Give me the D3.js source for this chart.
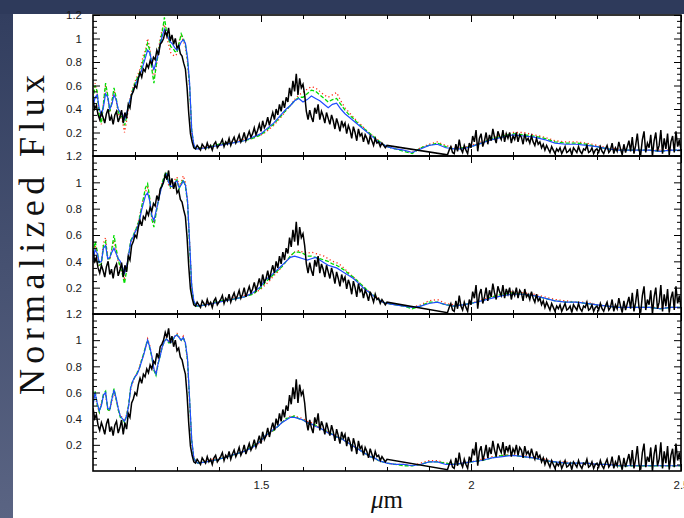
<!DOCTYPE html>
<html>
<head>
<meta charset="utf-8">
<script src="https://cdn.jsdelivr.net/npm/d3@7"></script>
<style>
  html, body { margin: 0; padding: 0; background: #2e3a5b; }
  svg { display: block; }
</style>
</head>
<body>
<svg id="chart" width="684" height="518"></svg>
<script>
// ---------------------------------------------------------------
// Observed spectrum (normalized flux), sampled every 0.004 micron.
// J+H segment starts at 1.100 um, K segment starts at 1.944 um;
// the telluric gap between them is bridged by a straight line.
// ---------------------------------------------------------------
const obsStep = 0.004;
const obsStartJH = 1.100;
const obsStartK = 1.944;

const obsJH = [
  0.48, 0.40, 0.43, 0.35,
  0.31, 0.37, 0.33, 0.28, 0.36, 0.40, 0.30, 0.34, 0.27, 0.35, 0.38, 0.29, 0.33, 0.39, 0.28, 0.37, 0.32,
  0.44, 0.41, 0.52, 0.55,
  0.60, 0.58, 0.66, 0.71, 0.67, 0.74, 0.72, 0.78, 0.75, 0.81,
  0.78, 0.84, 0.82, 0.90, 0.86, 0.95, 0.97, 1.00, 1.06, 1.02,
  1.09, 0.98, 1.03, 0.95, 1.00, 0.92, 0.94, 0.87, 0.85, 0.79, 0.74,
  0.58, 0.36, 0.19, 0.12, 0.07,
  0.06, 0.09, 0.07, 0.05, 0.10, 0.08, 0.06, 0.11, 0.07, 0.09, 0.05, 0.10, 0.12, 0.07, 0.09,
  0.11, 0.14, 0.08, 0.12, 0.10, 0.15, 0.09, 0.13, 0.16, 0.11,
  0.14, 0.18, 0.12, 0.15, 0.20, 0.13, 0.17, 0.21, 0.16, 0.19,
  0.24, 0.18, 0.22, 0.27, 0.21, 0.30, 0.24, 0.27, 0.33, 0.26,
  0.32, 0.37, 0.31, 0.40, 0.35, 0.44, 0.38, 0.47, 0.41, 0.50,
  0.46, 0.58, 0.51, 0.64, 0.55, 0.70, 0.52, 0.66, 0.58, 0.61,
  0.52, 0.38, 0.31,
  0.39, 0.33, 0.29, 0.41, 0.36, 0.44, 0.31, 0.38, 0.34, 0.28, 0.37, 0.32,
  0.27, 0.35, 0.30, 0.23, 0.32, 0.27, 0.21, 0.30, 0.25, 0.28,
  0.19, 0.26, 0.22, 0.15, 0.25, 0.20, 0.13, 0.23, 0.17, 0.19,
  0.12, 0.18, 0.15, 0.10, 0.17, 0.13, 0.09, 0.15, 0.11, 0.12,
  0.08, 0.11, 0.09, 0.07, 0.09
];

const obsK = [
  0.01,
  0.05, 0.08, 0.03, 0.02, 0.10, 0.04, 0.14, 0.06, 0.03, 0.09, 0.05, 0.02, 0.11,
  0.07, 0.17, 0.12, 0.22, 0.04, 0.15, 0.19, 0.08, 0.13, 0.20, 0.10,
  0.18, 0.13, 0.23, 0.16, 0.11, 0.21, 0.17, 0.14, 0.22, 0.12, 0.19, 0.15, 0.20, 0.11, 0.17,
  0.14, 0.20, 0.12, 0.18, 0.16, 0.10, 0.19, 0.13, 0.15, 0.11, 0.17, 0.12, 0.09, 0.15, 0.10,
  0.12, 0.07, 0.10, 0.05, 0.09, 0.06, 0.03, 0.08, 0.05, 0.02,
  0.06, 0.04, 0.07, 0.02, 0.05, 0.08, 0.03, 0.04, 0.06, 0.01, 0.07, 0.05, 0.03, 0.08, 0.04,
  0.02, 0.06, 0.05, 0.09, 0.03, 0.04, 0.07, 0.02, 0.05, 0.06, 0.03, 0.08, 0.04, 0.02, 0.06,
  0.09, 0.03, 0.05, 0.11, 0.02, 0.07, 0.04, 0.12, 0.06, 0.01, 0.10, 0.03, 0.08, 0.13, 0.04,
  0.16, 0.02, 0.09, 0.19, 0.05, 0.01, 0.14, 0.21, 0.03, 0.11, 0.07, 0.18, 0.00, 0.13, 0.20,
  0.04, 0.09, 0.22, 0.02, 0.15, 0.06, 0.19, 0.01, 0.12, 0.17, 0.03, 0.21, 0.08, 0.14, 0.05
];

// ---------------------------------------------------------------
// Model spectra: shared wavelength grid (micron)
// ---------------------------------------------------------------
const modelWave = [
  1.100, 1.105, 1.110, 1.115, 1.120, 1.125, 1.130, 1.135, 1.140, 1.145,
  1.150, 1.155, 1.160, 1.165, 1.170, 1.175, 1.180, 1.185, 1.190, 1.195,
  1.200, 1.205, 1.210, 1.215, 1.220, 1.225, 1.230, 1.235, 1.240, 1.245,
  1.250, 1.255, 1.260, 1.265, 1.270, 1.275, 1.280, 1.285, 1.290, 1.295,
  1.300, 1.305, 1.310, 1.315, 1.320, 1.325, 1.330, 1.335, 1.340, 1.345, 1.350,
  1.37, 1.40, 1.43, 1.46, 1.48, 1.50,
  1.51, 1.52, 1.53, 1.54, 1.55, 1.56, 1.57, 1.58, 1.59, 1.60,
  1.61, 1.62, 1.63, 1.64, 1.65, 1.66, 1.67, 1.68, 1.69, 1.70,
  1.71, 1.72, 1.73, 1.74, 1.75, 1.76, 1.77, 1.78, 1.79, 1.80,
  1.82, 1.84, 1.86, 1.88, 1.90, 1.92, 1.94, 1.96, 1.98, 2.00,
  2.025, 2.050, 2.075, 2.100, 2.125, 2.150, 2.175, 2.200, 2.225, 2.250,
  2.275, 2.300, 2.325, 2.350, 2.375, 2.400, 2.425, 2.450, 2.475, 2.500
];

// Top panel models
const model1Blue = [
  0.42, 0.50, 0.52, 0.40, 0.35, 0.42, 0.53, 0.50, 0.40, 0.44,
  0.52, 0.48, 0.40, 0.37, 0.36, 0.31, 0.36, 0.44, 0.50, 0.55,
  0.60, 0.64, 0.68, 0.72, 0.78, 0.84, 0.90, 0.88, 0.80, 0.73,
  0.80, 0.86, 0.95, 1.02, 1.08, 1.04, 1.00, 0.97, 0.95, 0.92,
  0.90, 0.93, 0.97, 0.99, 0.96, 0.84, 0.62, 0.22, 0.10, 0.06, 0.06,
  0.07, 0.09, 0.11, 0.13, 0.16, 0.19,
  0.22, 0.25, 0.28, 0.32, 0.36, 0.40, 0.43, 0.47, 0.49, 0.46,
  0.48, 0.51, 0.49, 0.47, 0.44, 0.41, 0.44, 0.45, 0.40, 0.36,
  0.33, 0.30, 0.27, 0.24, 0.21, 0.18, 0.15, 0.12, 0.10, 0.08,
  0.06, 0.05, 0.03, 0.06, 0.09, 0.10, 0.07, 0.06, 0.06, 0.08,
  0.11, 0.14, 0.16, 0.18, 0.17, 0.16, 0.14, 0.11, 0.10, 0.10,
  0.09, 0.08, 0.06, 0.05, 0.05, 0.05, 0.05, 0.04, 0.05, 0.05
];
const model1Green = [
  0.48, 0.60, 0.55, 0.34, 0.28, 0.45, 0.62, 0.52, 0.38, 0.46,
  0.58, 0.50, 0.38, 0.33, 0.34, 0.26, 0.33, 0.44, 0.50, 0.57,
  0.62, 0.66, 0.70, 0.75, 0.82, 0.88, 0.96, 0.90, 0.74, 0.62,
  0.76, 0.86, 0.97, 1.06, 1.18, 1.06, 1.00, 0.93, 0.92, 0.89,
  0.88, 0.96, 1.04, 1.00, 0.95, 0.82, 0.60, 0.22, 0.09, 0.06, 0.07,
  0.07, 0.10, 0.11, 0.13, 0.15, 0.18,
  0.21, 0.24, 0.27, 0.31, 0.35, 0.39, 0.43, 0.47, 0.50, 0.50,
  0.53, 0.56, 0.55, 0.52, 0.49, 0.46, 0.48, 0.49, 0.44, 0.39,
  0.35, 0.32, 0.28, 0.25, 0.22, 0.19, 0.16, 0.13, 0.10, 0.08,
  0.06, 0.04, 0.02, 0.07, 0.09, 0.11, 0.08, 0.06, 0.07, 0.08,
  0.11, 0.15, 0.17, 0.19, 0.18, 0.17, 0.15, 0.12, 0.11, 0.11,
  0.10, 0.08, 0.06, 0.05, 0.05, 0.05, 0.05, 0.04, 0.05, 0.05
];
const model1Red = [
  0.52, 0.62, 0.53, 0.33, 0.27, 0.46, 0.60, 0.50, 0.37, 0.47,
  0.56, 0.48, 0.36, 0.33, 0.30, 0.20, 0.30, 0.42, 0.52, 0.58,
  0.63, 0.68, 0.72, 0.78, 0.86, 0.90, 1.00, 0.92, 0.78, 0.65,
  0.75, 0.88, 1.00, 1.08, 1.12, 1.02, 0.95, 0.88, 0.86, 0.85,
  0.87, 0.98, 1.02, 0.98, 0.93, 0.80, 0.58, 0.20, 0.08, 0.06, 0.06,
  0.08, 0.09, 0.12, 0.14, 0.15, 0.18,
  0.20, 0.23, 0.26, 0.30, 0.34, 0.39, 0.43, 0.48, 0.52, 0.54,
  0.57, 0.59, 0.58, 0.55, 0.52, 0.50, 0.52, 0.54, 0.47, 0.41,
  0.37, 0.33, 0.29, 0.26, 0.22, 0.19, 0.16, 0.13, 0.10, 0.08,
  0.06, 0.05, 0.03, 0.07, 0.10, 0.12, 0.09, 0.07, 0.07, 0.09,
  0.12, 0.16, 0.18, 0.20, 0.20, 0.18, 0.16, 0.13, 0.12, 0.12,
  0.11, 0.09, 0.07, 0.06, 0.05, 0.05, 0.05, 0.05, 0.05, 0.05
];

// Middle panel models
const model2Blue = [
  0.40, 0.49, 0.46, 0.39, 0.40, 0.50, 0.52, 0.42, 0.43, 0.47,
  0.50, 0.46, 0.42, 0.40, 0.36, 0.31, 0.36, 0.45, 0.55, 0.58,
  0.62, 0.65, 0.70, 0.78, 0.84, 0.90, 0.92, 0.86, 0.75, 0.71,
  0.78, 0.85, 0.92, 0.98, 1.03, 1.06, 1.00, 0.97, 0.97, 1.00,
  1.01, 0.96, 0.98, 1.01, 0.98, 0.86, 0.55, 0.22, 0.10, 0.07, 0.06,
  0.07, 0.09, 0.11, 0.13, 0.16, 0.21,
  0.26, 0.28, 0.31, 0.34, 0.37, 0.40, 0.43, 0.44, 0.43, 0.42,
  0.41, 0.42, 0.43, 0.41, 0.39, 0.37, 0.36, 0.35, 0.33, 0.31,
  0.29, 0.27, 0.24, 0.21, 0.18, 0.16, 0.13, 0.11, 0.09, 0.08,
  0.07, 0.06, 0.05, 0.06, 0.08, 0.09, 0.07, 0.06, 0.07, 0.08,
  0.10, 0.12, 0.14, 0.15, 0.15, 0.14, 0.12, 0.10, 0.09, 0.09,
  0.08, 0.07, 0.06, 0.05, 0.05, 0.05, 0.05, 0.04, 0.05, 0.05
];
const model2Green = [
  0.46, 0.55, 0.48, 0.37, 0.38, 0.52, 0.55, 0.42, 0.42, 0.50,
  0.60, 0.50, 0.41, 0.36, 0.30, 0.23, 0.33, 0.45, 0.56, 0.59,
  0.63, 0.66, 0.72, 0.80, 0.88, 0.96, 0.99, 0.88, 0.72, 0.66,
  0.76, 0.85, 0.93, 1.00, 1.05, 1.08, 1.00, 0.96, 0.96, 1.00,
  1.02, 0.95, 0.99, 1.02, 0.97, 0.85, 0.52, 0.20, 0.09, 0.06, 0.06,
  0.07, 0.10, 0.11, 0.13, 0.15, 0.20,
  0.24, 0.27, 0.30, 0.33, 0.36, 0.40, 0.44, 0.47, 0.47, 0.46,
  0.44, 0.44, 0.43, 0.42, 0.41, 0.40, 0.38, 0.37, 0.35, 0.33,
  0.30, 0.28, 0.25, 0.22, 0.19, 0.16, 0.14, 0.11, 0.09, 0.08,
  0.07, 0.06, 0.04, 0.06, 0.09, 0.09, 0.07, 0.06, 0.07, 0.08,
  0.10, 0.13, 0.15, 0.16, 0.15, 0.14, 0.12, 0.10, 0.09, 0.09,
  0.08, 0.07, 0.06, 0.05, 0.05, 0.05, 0.05, 0.04, 0.05, 0.05
];
const model2Red = [
  0.44, 0.52, 0.47, 0.36, 0.39, 0.54, 0.58, 0.43, 0.41, 0.49,
  0.56, 0.48, 0.40, 0.35, 0.32, 0.27, 0.35, 0.45, 0.55, 0.58,
  0.63, 0.67, 0.73, 0.80, 0.87, 0.93, 0.96, 0.87, 0.74, 0.69,
  0.77, 0.86, 0.94, 1.00, 1.04, 1.05, 0.98, 0.95, 0.97, 1.02,
  1.04, 0.97, 1.00, 1.05, 1.00, 0.86, 0.54, 0.21, 0.09, 0.06, 0.06,
  0.08, 0.09, 0.12, 0.14, 0.15, 0.19,
  0.22, 0.25, 0.29, 0.32, 0.36, 0.40, 0.44, 0.47, 0.48, 0.47,
  0.46, 0.47, 0.46, 0.45, 0.44, 0.42, 0.40, 0.39, 0.37, 0.34,
  0.31, 0.28, 0.25, 0.22, 0.19, 0.16, 0.14, 0.11, 0.09, 0.08,
  0.07, 0.06, 0.05, 0.07, 0.10, 0.11, 0.08, 0.07, 0.07, 0.08,
  0.11, 0.13, 0.15, 0.17, 0.16, 0.15, 0.13, 0.11, 0.10, 0.09,
  0.09, 0.07, 0.06, 0.05, 0.05, 0.05, 0.05, 0.05, 0.05, 0.05
];

// Bottom panel models
const model3Blue = [
  0.50, 0.60, 0.52, 0.46, 0.50, 0.58, 0.60, 0.48, 0.47, 0.55,
  0.62, 0.56, 0.48, 0.42, 0.40, 0.38, 0.42, 0.50, 0.64, 0.69,
  0.72, 0.74, 0.78, 0.83, 0.88, 0.94, 1.00, 0.95, 0.88, 0.78,
  0.74, 0.82, 0.88, 0.95, 0.99, 1.01, 0.99, 0.98, 1.00, 1.03,
  1.04, 1.02, 1.00, 1.02, 0.98, 0.86, 0.55, 0.24, 0.10, 0.07, 0.06,
  0.07, 0.09, 0.12, 0.15, 0.18, 0.23,
  0.27, 0.29, 0.32, 0.34, 0.37, 0.39, 0.41, 0.41, 0.40, 0.39,
  0.37, 0.36, 0.34, 0.33, 0.31, 0.29, 0.28, 0.26, 0.25, 0.23,
  0.21, 0.19, 0.17, 0.15, 0.13, 0.11, 0.10, 0.08, 0.07, 0.06,
  0.05, 0.05, 0.04, 0.05, 0.07, 0.07, 0.05, 0.05, 0.06, 0.07,
  0.08, 0.10, 0.11, 0.12, 0.11, 0.10, 0.08, 0.07, 0.06, 0.06,
  0.06, 0.05, 0.05, 0.04, 0.04, 0.04, 0.04, 0.04, 0.04, 0.04
];
const model3Green = [
  0.52, 0.61, 0.51, 0.45, 0.51, 0.59, 0.61, 0.47, 0.46, 0.56,
  0.63, 0.55, 0.47, 0.41, 0.40, 0.37, 0.42, 0.51, 0.65, 0.69,
  0.72, 0.75, 0.78, 0.84, 0.89, 0.95, 1.00, 0.94, 0.87, 0.77,
  0.73, 0.82, 0.88, 0.95, 0.99, 1.01, 0.98, 0.98, 1.00, 1.03,
  1.04, 1.02, 1.00, 1.02, 0.97, 0.85, 0.54, 0.23, 0.10, 0.07, 0.06,
  0.07, 0.09, 0.12, 0.15, 0.19, 0.23,
  0.27, 0.29, 0.31, 0.34, 0.37, 0.40, 0.41, 0.42, 0.40, 0.39,
  0.37, 0.36, 0.35, 0.33, 0.31, 0.30, 0.28, 0.26, 0.25, 0.23,
  0.21, 0.19, 0.17, 0.15, 0.13, 0.11, 0.10, 0.08, 0.07, 0.06,
  0.05, 0.04, 0.04, 0.05, 0.07, 0.07, 0.06, 0.05, 0.06, 0.07,
  0.08, 0.10, 0.12, 0.12, 0.11, 0.10, 0.08, 0.07, 0.06, 0.06,
  0.06, 0.05, 0.05, 0.04, 0.04, 0.04, 0.04, 0.04, 0.04, 0.04
];
const model3Red = [
  0.53, 0.59, 0.50, 0.45, 0.52, 0.57, 0.58, 0.48, 0.46, 0.54,
  0.60, 0.55, 0.47, 0.42, 0.41, 0.38, 0.43, 0.51, 0.63, 0.68,
  0.72, 0.75, 0.79, 0.84, 0.89, 0.95, 1.01, 0.96, 0.88, 0.78,
  0.75, 0.82, 0.89, 0.96, 1.00, 1.02, 0.99, 0.98, 1.01, 1.03,
  1.05, 1.03, 1.00, 1.03, 0.98, 0.84, 0.52, 0.22, 0.10, 0.07, 0.06,
  0.08, 0.10, 0.12, 0.15, 0.18, 0.22,
  0.26, 0.29, 0.31, 0.34, 0.37, 0.40, 0.42, 0.42, 0.41, 0.40,
  0.38, 0.37, 0.35, 0.33, 0.32, 0.30, 0.28, 0.27, 0.25, 0.23,
  0.21, 0.19, 0.17, 0.15, 0.13, 0.11, 0.10, 0.08, 0.07, 0.06,
  0.05, 0.05, 0.04, 0.06, 0.08, 0.08, 0.06, 0.05, 0.06, 0.07,
  0.09, 0.11, 0.12, 0.13, 0.12, 0.10, 0.09, 0.07, 0.07, 0.06,
  0.06, 0.05, 0.05, 0.05, 0.04, 0.04, 0.04, 0.04, 0.04, 0.04
];

// Axis ticks and labels
const xMajorTicks = [1.5, 2.0, 2.5];
const xMinorTicks = [1.2, 1.3, 1.4, 1.6, 1.7, 1.8, 1.9, 2.1, 2.2, 2.3, 2.4];
const yMajorTicks = [0.2, 0.4, 0.6, 0.8, 1.0, 1.2];
const yMinorTicks = [0.05, 0.1, 0.15, 0.25, 0.3, 0.35, 0.45, 0.5, 0.55, 0.65, 0.7, 0.75,
                     0.85, 0.9, 0.95, 1.05, 1.1, 1.15];
const yTitle = "Normalized Flux";
const xTitleGreek = "\u03BC";
const xTitleUnit = "m";

// ---------------------------------------------------------------
// Drawing
// ---------------------------------------------------------------
const W = 684, H = 518;
const svg = d3.select("#chart");
const defs = svg.append("defs");

// slide-style backdrop: dark top band and a shaded left band
const grad = defs.append("linearGradient").attr("id", "sideShade")
  .attr("x1", 0).attr("y1", 0).attr("x2", 0).attr("y2", 1);
grad.append("stop").attr("offset", "0%").attr("stop-color", "#323e5f");
grad.append("stop").attr("offset", "100%").attr("stop-color", "#5a6483");
svg.append("rect").attr("width", W).attr("height", H).attr("fill", "#2e3a5b");
svg.append("rect").attr("x", 0).attr("y", 14).attr("width", 13).attr("height", H - 14)
  .attr("fill", "url(#sideShade)");
svg.append("rect").attr("x", 13).attr("y", 14).attr("width", W - 13).attr("height", H - 14)
  .attr("fill", "#ffffff");

const x = d3.scaleLinear().domain([1.1, 2.5]).range([93, 681]);
const panelRows = [[15, 156], [156, 314], [314, 471]];
const panelModels = [
  { red: model1Red, green: model1Green, blue: model1Blue },
  { red: model2Red, green: model2Green, blue: model2Blue },
  { red: model3Red, green: model3Green, blue: model3Blue }
];

const observed = obsJH.map((v, i) => [obsStartJH + i * obsStep, v])
  .concat(obsK.map((v, i) => [obsStartK + i * obsStep, v]));

const tickFont = "'Liberation Sans', Arial, Helvetica, sans-serif";

function styleAxis(sel) {
  sel.select(".domain").remove();
  sel.selectAll(".tick line").attr("stroke", "#000").attr("stroke-width", 1);
  sel.selectAll(".tick text").attr("fill", "#1a1a1a");
  sel.attr("font-family", tickFont).attr("font-size", 11.5);
}

panelRows.forEach(([top, bottom], p) => {
  const y = d3.scaleLinear().domain([0, 1.2]).range([bottom, top]);
  const g = svg.append("g");
  const clipId = "clip" + p;
  defs.append("clipPath").attr("id", clipId).append("rect")
    .attr("x", x.range()[0]).attr("y", top)
    .attr("width", x.range()[1] - x.range()[0]).attr("height", bottom - top);

  const line = d3.line().x(d => x(d[0])).y(d => y(d[1]));
  const plot = g.append("g").attr("clip-path", `url(#${clipId})`);
  const m = panelModels[p];

  const series = [
    { vals: m.red, color: "#ff2a10", dash: "1.2,2.6", width: 1.3 },
    { vals: m.green, color: "#00dd00", dash: "4,2", width: 1.3 },
    { vals: m.blue, color: "#1f4cff", dash: null, width: 1.2 }
  ];
  series.forEach(s => {
    plot.append("path")
      .datum(d3.zip(modelWave, s.vals))
      .attr("d", line)
      .attr("fill", "none")
      .attr("stroke", s.color)
      .attr("stroke-width", s.width)
      .attr("stroke-dasharray", s.dash);
  });

  plot.append("path")
    .datum(observed)
    .attr("d", line)
    .attr("fill", "none")
    .attr("stroke", "#000")
    .attr("stroke-width", 1.5)
    .attr("stroke-linejoin", "miter");

  // left axis
  g.append("g").attr("transform", `translate(${x.range()[0]},0)`)
    .call(d3.axisLeft(y).tickValues(yMajorTicks).tickSize(-7).tickPadding(11)
      .tickFormat(d3.format("~g")))
    .call(styleAxis);
  g.append("g").attr("transform", `translate(${x.range()[0]},0)`)
    .call(d3.axisLeft(y).tickValues(yMinorTicks).tickSize(-4).tickFormat(""))
    .call(styleAxis);
  // right axis
  g.append("g").attr("transform", `translate(${x.range()[1]},0)`)
    .call(d3.axisRight(y).tickValues(yMajorTicks).tickSize(-7).tickFormat(""))
    .call(styleAxis);
  g.append("g").attr("transform", `translate(${x.range()[1]},0)`)
    .call(d3.axisRight(y).tickValues(yMinorTicks).tickSize(-4).tickFormat(""))
    .call(styleAxis);
  // top axis
  g.append("g").attr("transform", `translate(0,${top})`)
    .call(d3.axisTop(x).tickValues(xMajorTicks).tickSize(-7).tickFormat(""))
    .call(styleAxis);
  g.append("g").attr("transform", `translate(0,${top})`)
    .call(d3.axisTop(x).tickValues(xMinorTicks).tickSize(-4).tickFormat(""))
    .call(styleAxis);
  // bottom axis (labels on the last panel only)
  const isLast = p === panelRows.length - 1;
  g.append("g").attr("transform", `translate(0,${bottom})`)
    .call(d3.axisBottom(x).tickValues(xMajorTicks).tickSize(-7).tickPadding(10)
      .tickFormat(isLast ? d3.format("~g") : ""))
    .call(styleAxis);
  g.append("g").attr("transform", `translate(0,${bottom})`)
    .call(d3.axisBottom(x).tickValues(xMinorTicks).tickSize(-4).tickFormat(""))
    .call(styleAxis);

  // frame
  g.append("rect")
    .attr("x", x.range()[0]).attr("y", top)
    .attr("width", x.range()[1] - x.range()[0]).attr("height", bottom - top)
    .attr("fill", "none").attr("stroke", "#000").attr("stroke-width", 1.6);
});

// axis titles
svg.append("text")
  .attr("transform", "translate(44,235) rotate(-90)")
  .attr("text-anchor", "middle")
  .attr("font-family", "'Liberation Serif', 'Times New Roman', serif")
  .attr("font-size", 36)
  .attr("fill", "#111")
  .attr("textLength", 320)
  .attr("lengthAdjust", "spacing")
  .text(yTitle);

const xt = svg.append("text")
  .attr("x", 387).attr("y", 508)
  .attr("text-anchor", "middle")
  .attr("font-family", "'Liberation Serif', 'Times New Roman', serif")
  .attr("font-size", 25)
  .attr("fill", "#111");
xt.append("tspan").attr("font-style", "italic").text(xTitleGreek);
xt.append("tspan").text(xTitleUnit);
</script>
</body>
</html>
